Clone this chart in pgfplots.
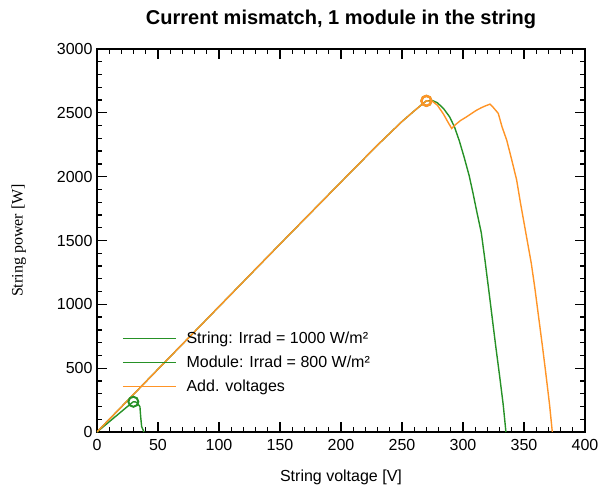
\documentclass[border=0pt]{standalone}
\usepackage{fontspec}
\setmainfont{Liberation Sans}
\newfontfamily\labelserif{Liberation Serif}
\usepackage{pgfplots}
\pgfplotsset{compat=1.18}
\definecolor{strgreen}{RGB}{38,145,38}
\definecolor{addorange}{RGB}{255,148,38}

\begin{document}
\begin{tikzpicture}
\useasboundingbox (-97pt,-56pt) rectangle (510pt,432pt);
\begin{axis}[
    scale only axis,
    width=488pt, height=383pt,
    xmin=0, xmax=400, ymin=0, ymax=3000,
    xtick distance=50, ytick distance=500,
    minor x tick num=4, minor y tick num=4,
    tick align=inside,
    major tick length=10pt, minor tick length=5pt,
    axis line style={line width=2.4pt},
    every tick/.style={black, line width=1.3pt},
    /pgf/number format/assume math mode=true,
    /pgf/number format/1000 sep={},
    tick label style={font=\fontsize{16}{19}\selectfont},
    yticklabel style={xshift=-1pt},
    xticklabel style={yshift=-4pt},
    title={Current mismatch, 1 module in the string},
    title style={font=\bfseries\fontsize{20}{24}\selectfont,
        at={(axis description cs:0.5,1.062)}, anchor=center, yshift=0pt},
    xlabel={String voltage [V]},
    xlabel style={font=\fontsize{16}{19}\selectfont,
        at={(axis description cs:0.5,-0.118)}, anchor=center},
    ylabel={String power [W]},
    ylabel style={font=\labelserif\fontsize{16}{19}\selectfont,
        at={(axis description cs:-0.16,0.5)}, anchor=center},
    legend style={draw=none, fill=none, font=\fontsize{16}{19}\selectfont,
        at={(axis description cs:0.045,0.272)}, anchor=north west,
        row sep=7pt},
    legend cell align=left,
    legend image code/.code={\draw[#1, line width=1.4pt] (0pt,0pt) -- (53pt,0pt); \path (61pt,0pt);},
]
% string, 1000 W/m2
\addplot[strgreen, line width=1.4pt] coordinates {
    (0,0) (25,246) (50,492) (100,982) (150,1472) (200,1958) (230,2248)
    (250,2432) (260,2515) (265,2555) (270,2594) (275,2596) (279,2579)
    (284,2534) (289,2469) (293,2390) (297,2280) (301,2150) (305,2010)
    (308,1880) (311,1740) (315,1560) (318,1347) (321,1120) (324,890)
    (327,660) (330,440) (333,210) (335.2,0)
};
% module, 800 W/m2
\addplot[strgreen, line width=1.4pt] coordinates {
    (0,0) (10,80) (20,160) (25,200) (28,224) (29.8,237) (31.5,236)
    (33,228) (35.2,198) (35.8,120) (36.6,42) (38.5,0)
};
% added voltages
\addplot[addorange, line width=1.4pt] coordinates {
    (0,0) (25,246) (50,492) (100,982) (150,1472) (200,1958) (230,2248)
    (250,2432) (260,2515) (265,2555) (270,2594) (275,2590) (279,2560)
    (284,2490) (287.5,2430) (290.7,2378) (293.4,2404) (298,2440) (303,2469)
    (307,2495) (311.2,2521) (315,2540) (318,2553) (322.1,2568) (325,2540)
    (328.9,2496) (332,2390) (335.8,2287) (340,2130) (344,1973) (347,1800)
    (350,1640) (353,1480) (356,1320) (359,1120) (362,900) (365,680)
    (368,450) (371,210) (373.2,0)
};
\legend{String: Irrad = 1000 W/m², Module: Irrad = 800 W/m², Add. voltages}
% maximum power points
\addplot[only marks, mark=o, mark size=5pt, strgreen, line width=2pt, forget plot]
    coordinates {(270,2594) (29.8,237)};
\addplot[only marks, mark=o, mark size=5pt, addorange, line width=2.4pt, forget plot]
    coordinates {(270,2594)};
\end{axis}
\end{tikzpicture}
\end{document}
